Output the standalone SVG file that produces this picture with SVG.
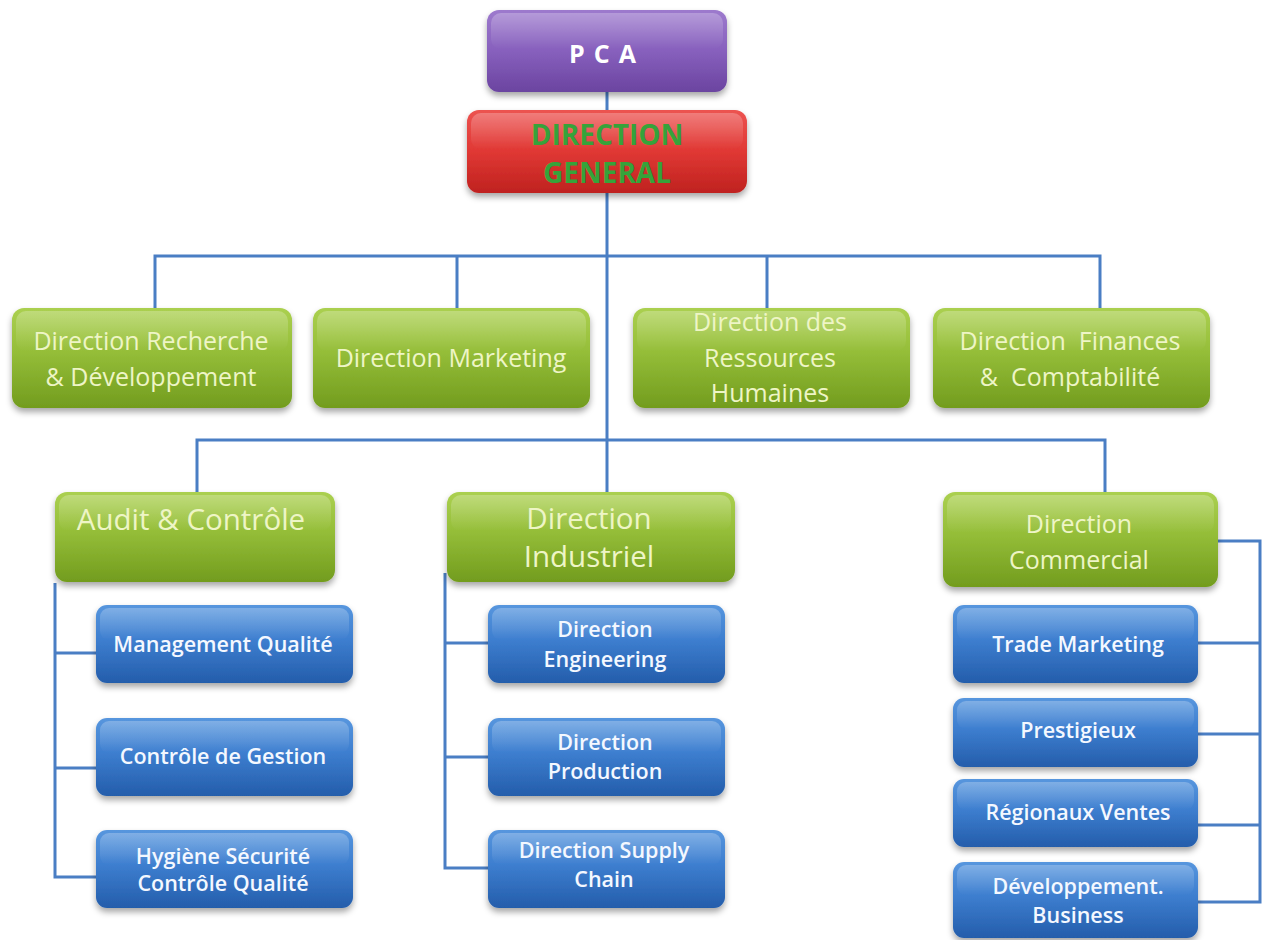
<svg xmlns="http://www.w3.org/2000/svg" width="1268" height="940" viewBox="0 0 1268 940">
  <defs>
    <linearGradient id="gGreen" x1="0" y1="0" x2="0" y2="1">
      <stop offset="0" stop-color="#abd050"/>
      <stop offset="0.45" stop-color="#94bd38"/>
      <stop offset="1" stop-color="#729c1e"/>
    </linearGradient>
    <linearGradient id="gBlue" x1="0" y1="0" x2="0" y2="1">
      <stop offset="0" stop-color="#5796de"/>
      <stop offset="0.45" stop-color="#3d7ecf"/>
      <stop offset="1" stop-color="#245dab"/>
    </linearGradient>
    <linearGradient id="gPurple" x1="0" y1="0" x2="0" y2="1">
      <stop offset="0" stop-color="#9d7acd"/>
      <stop offset="0.5" stop-color="#8760bd"/>
      <stop offset="1" stop-color="#6b44a0"/>
    </linearGradient>
    <linearGradient id="gRed" x1="0" y1="0" x2="0" y2="1">
      <stop offset="0" stop-color="#ec5350"/>
      <stop offset="0.5" stop-color="#e03834"/>
      <stop offset="1" stop-color="#bf221f"/>
    </linearGradient>
    <linearGradient id="gGloss" x1="0" y1="0" x2="0" y2="1">
      <stop offset="0" stop-color="#ffffff" stop-opacity="0.25"/>
      <stop offset="1" stop-color="#ffffff" stop-opacity="0"/>
    </linearGradient>
    <filter id="shadow" x="-10%" y="-10%" width="120%" height="135%">
      <feDropShadow dx="0" dy="4" stdDeviation="3" flood-color="#000" flood-opacity="0.35"/>
    </filter>
  </defs>
  <style>
    .box { filter: url(#shadow); }
    .green { fill: url(#gGreen); }
    .blue { fill: url(#gBlue); }
    .gloss { fill: url(#gGloss); }
    .conn { fill: none; stroke: #4a7ec4; stroke-width: 3; }
    text { font-family: "Open Sans", "Noto Sans", "Liberation Sans", sans-serif; text-anchor: middle; }
    .tg { fill: #eef5c6; font-size: 25px; }
    .tgc { fill: #eef5c6; font-size: 25px; }
    .tgl { fill: #eef5c6; font-size: 29.5px; }
    .tb { fill: #f4f8ff; font-size: 21.5px; font-weight: 600; }
    .tdg { fill: #36a33a; font-size: 28px; font-weight: 700; }
  </style>

  <rect width="1268" height="940" fill="#ffffff"/>

  <!-- connectors -->
  <g id="connectors">
    <path class="conn" d="M607 90 V110 M607 193 V492"/>
    <path class="conn" d="M155 308 V256 H1100 V308 M457 256 V308 M767 256 V308"/>
    <path class="conn" d="M197 492 V440 H1105 V492"/>
    <path class="conn" d="M55 583 V877 H96 M55 653 H96 M55 768 H96"/>
    <path class="conn" d="M445 573 V868 H488 M445 643 H488 M445 757 H488"/>
    <path class="conn" d="M1218 541 H1260 V902 H1198 M1198 643 H1260 M1198 734 H1260 M1198 825 H1260"/>
  </g>

  <!-- top -->
  <g id="pca">
    <rect class="box" x="487" y="10" width="240" height="82" rx="12" fill="url(#gPurple)"/>
    <rect class="gloss" x="491" y="13" width="232" height="36" rx="10"/>
    <text x="607" y="63" fill="#ffffff" font-size="25" font-weight="700" letter-spacing="9">PCA</text>
  </g>
  <g id="direction-general">
    <rect class="box" x="467" y="110" width="280" height="83" rx="12" fill="url(#gRed)"/>
    <rect class="gloss" x="471" y="113" width="272" height="36" rx="10"/>
    <text class="tdg" x="607" y="145">DIRECTION</text>
    <text class="tdg" x="607" y="183">GENERAL</text>
  </g>

  <!-- directions, second row -->
  <g id="dir-rd">
    <rect class="box green" x="12" y="308" width="280" height="100" rx="12"/>
    <rect class="gloss" x="16" y="311" width="272" height="40" rx="10"/>
    <text class="tg" x="151" y="350">Direction Recherche</text>
    <text class="tg" x="151" y="386">&amp; Développement</text>
  </g>
  <g id="dir-marketing">
    <rect class="box green" x="313" y="308" width="277" height="100" rx="12"/>
    <rect class="gloss" x="317" y="311" width="269" height="40" rx="10"/>
    <text class="tg" x="451" y="367">Direction Marketing</text>
  </g>
  <g id="dir-rh">
    <rect class="box green" x="633" y="308" width="277" height="100" rx="12"/>
    <rect class="gloss" x="637" y="311" width="269" height="40" rx="10"/>
    <text class="tg" x="770" y="331">Direction des</text>
    <text class="tg" x="770" y="367">Ressources</text>
    <text class="tg" x="770" y="402">Humaines</text>
  </g>
  <g id="dir-finances">
    <rect class="box green" x="933" y="308" width="277" height="100" rx="12"/>
    <rect class="gloss" x="937" y="311" width="269" height="40" rx="10"/>
    <text class="tg" x="1070" y="350" xml:space="preserve">Direction  Finances</text>
    <text class="tg" x="1070" y="386" xml:space="preserve">&amp;  Comptabilité</text>
  </g>

  <!-- third row -->
  <g id="audit">
    <rect class="box green" x="55" y="492" width="280" height="90" rx="12"/>
    <rect class="gloss" x="59" y="495" width="272" height="36" rx="10"/>
    <text class="tgl" x="191" y="530">Audit &amp; Contrôle</text>
  </g>
  <g id="dir-industriel">
    <rect class="box green" x="447" y="492" width="288" height="90" rx="12"/>
    <rect class="gloss" x="451" y="495" width="280" height="36" rx="10"/>
    <text class="tgl" x="589" y="529">Direction</text>
    <text class="tgl" x="589" y="567">Industriel</text>
  </g>
  <g id="dir-commercial">
    <rect class="box green" x="943" y="492" width="275" height="95" rx="12"/>
    <rect class="gloss" x="947" y="495" width="267" height="38" rx="10"/>
    <text class="tgc" x="1079" y="533">Direction</text>
    <text class="tgc" x="1079" y="569">Commercial</text>
  </g>

  <!-- audit sub-units -->
  <g id="management-qualite">
    <rect class="box blue" x="96" y="605" width="257" height="78" rx="11"/>
    <rect class="gloss" x="100" y="608" width="249" height="32" rx="9"/>
    <text class="tb" x="223" y="652">Management Qualité</text>
  </g>
  <g id="controle-gestion">
    <rect class="box blue" x="96" y="718" width="257" height="78" rx="11"/>
    <rect class="gloss" x="100" y="721" width="249" height="32" rx="9"/>
    <text class="tb" x="223" y="764">Contrôle de Gestion</text>
  </g>
  <g id="hygiene-securite">
    <rect class="box blue" x="96" y="830" width="257" height="78" rx="11"/>
    <rect class="gloss" x="100" y="833" width="249" height="32" rx="9"/>
    <text class="tb" x="223" y="864">Hygiène Sécurité</text>
    <text class="tb" x="223" y="891">Contrôle Qualité</text>
  </g>

  <!-- industriel sub-units -->
  <g id="dir-engineering">
    <rect class="box blue" x="488" y="605" width="237" height="78" rx="11"/>
    <rect class="gloss" x="492" y="608" width="229" height="32" rx="9"/>
    <text class="tb" x="605" y="637">Direction</text>
    <text class="tb" x="605" y="667">Engineering</text>
  </g>
  <g id="dir-production">
    <rect class="box blue" x="488" y="718" width="237" height="78" rx="11"/>
    <rect class="gloss" x="492" y="721" width="229" height="32" rx="9"/>
    <text class="tb" x="605" y="750">Direction</text>
    <text class="tb" x="605" y="779">Production</text>
  </g>
  <g id="dir-supply-chain">
    <rect class="box blue" x="488" y="830" width="237" height="78" rx="11"/>
    <rect class="gloss" x="492" y="833" width="229" height="32" rx="9"/>
    <text class="tb" x="604" y="858">Direction Supply</text>
    <text class="tb" x="604" y="887">Chain</text>
  </g>

  <!-- commercial sub-units -->
  <g id="trade-marketing">
    <rect class="box blue" x="953" y="605" width="245" height="78" rx="11"/>
    <rect class="gloss" x="957" y="608" width="237" height="32" rx="9"/>
    <text class="tb" x="1078" y="652">Trade Marketing</text>
  </g>
  <g id="prestigieux">
    <rect class="box blue" x="953" y="698" width="245" height="69" rx="11"/>
    <rect class="gloss" x="957" y="701" width="237" height="28" rx="9"/>
    <text class="tb" x="1078" y="738">Prestigieux</text>
  </g>
  <g id="regionaux-ventes">
    <rect class="box blue" x="953" y="779" width="245" height="68" rx="11"/>
    <rect class="gloss" x="957" y="782" width="237" height="28" rx="9"/>
    <text class="tb" x="1078" y="820">Régionaux Ventes</text>
  </g>
  <g id="developpement-business">
    <rect class="box blue" x="953" y="862" width="245" height="76" rx="11"/>
    <rect class="gloss" x="957" y="865" width="237" height="30" rx="9"/>
    <text class="tb" x="1078" y="894">Développement.</text>
    <text class="tb" x="1078" y="923">Business</text>
  </g>
</svg>
